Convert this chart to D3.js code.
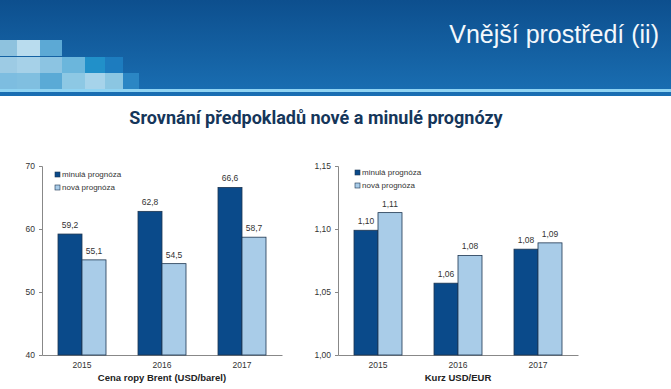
<!DOCTYPE html>
<html>
<head>
<meta charset="utf-8">
<script src="https://cdn.jsdelivr.net/npm/d3@7"></script>
<style>
  body { margin: 0; background: #fff; }
  svg { display: block; }
</style>
</head>
<body>
<div id="chart"></div>
<script>
// data
var years        = [ '2015', '2016', '2017' ];
var seriesNames  = [ 'minulá prognóza', 'nová prognóza' ];
var brentOld     = [ 59.2, 62.8, 66.6 ];
var brentNew     = [ 55.1, 54.5, 58.7 ];
var brentTicks   = [ 40, 50, 60, 70 ];
var usdOld       = [ 1.099, 1.057, 1.084 ];
var usdNew       = [ 1.113, 1.079, 1.089 ];
var usdTicks     = [ 1.00, 1.05, 1.10, 1.15 ];

var chart_width  = 671;
var chart_height = 389;
var colors       = [ '#0a4a8a', '#a9cce8' ];

var cz = d3.formatLocale({ decimal: ',', thousands: ' ', grouping: [3], currency: ['', ''] });

var svg = d3.select('#chart')
    .append('svg')
    .attr('width', chart_width)
    .attr('height', chart_height);

// Header
var defs = svg.append('defs');
var grad = defs.append('linearGradient')
    .attr('id', 'hdr')
    .attr('x1', 0).attr('y1', 0).attr('x2', 0).attr('y2', 1);
grad.append('stop').attr('offset', '0%').attr('stop-color', '#0d4f8e');
grad.append('stop').attr('offset', '100%').attr('stop-color', '#1a6fb3');

svg.append('rect')
    .attr('x', 0).attr('y', 0)
    .attr('width', chart_width).attr('height', 96)
    .attr('fill', 'url(#hdr)');

// decorative squares
var squares = [
    [0, 40, 17, '#8ec2de'], [17, 40, 23, '#b9dcee'], [40, 40, 22, '#5ca9d5'],
    [0, 57, 17, '#9dcbe4'], [17, 57, 23, '#a6d1e8'], [40, 57, 22, '#8cc4e2'],
    [62, 57, 23, '#6bb6dc'], [85, 57, 20, '#2190c9'], [105, 57, 18, '#1d7cbf'],
    [0, 73, 17, '#7dbde0'], [17, 73, 23, '#80bfe0'], [40, 73, 22, '#5aaad6'],
    [62, 73, 23, '#8dc8e4'], [85, 73, 20, '#a6d3ea'], [105, 73, 18, '#8bc6e2'],
    [123, 73, 16, '#2b86c4']
];
svg.append('g').selectAll('rect')
    .data(squares)
    .enter()
    .append('rect')
    .attr('x', function(d) { return d[0]; })
    .attr('y', function(d) { return d[1]; })
    .attr('width', function(d) { return d[2]; })
    .attr('height', 16)
    .attr('fill', function(d) { return d[3]; });

svg.append('rect')
    .attr('x', 0).attr('y', 89)
    .attr('width', chart_width).attr('height', 3)
    .attr('fill', '#8fd3f2');

svg.append('text')
    .attr('x', 659).attr('y', 43)
    .attr('text-anchor', 'end')
    .attr('font-family', '"Liberation Sans", sans-serif')
    .attr('font-size', 25)
    .attr('fill', '#f4f8fc')
    .text('Vnější prostředí (ii)');

svg.append('text')
    .attr('x', 316).attr('y', 124)
    .attr('text-anchor', 'middle')
    .attr('font-family', 'Roboto, "Liberation Sans", sans-serif')
    .attr('font-weight', 'bold')
    .attr('font-size', 18)
    .attr('fill', '#15365a')
    .text('Srovnání předpokladů nové a minulé prognózy');

function drawChart(opts) {
    var g = svg.append('g');

    var x_scale = d3.scaleBand()
        .domain(years)
        .range([ opts.left, opts.left + 240 ]);

    var x_inner = d3.scaleBand()
        .domain([0, 1])
        .range([ 16, 64 ]);

    var y_scale = d3.scaleLinear()
        .domain(opts.domain)
        .range([ 355, 166 ]);

    // y axis
    var y_axis = d3.axisLeft(y_scale)
        .tickValues(opts.ticks)
        .tickSize(3)
        .tickPadding(4)
        .tickFormat(opts.tickFormat);

    var ya = g.append('g')
        .attr('transform', 'translate(' + opts.left + ',0)')
        .call(y_axis);
    ya.select('.domain').attr('stroke', '#888');
    ya.selectAll('.tick line').attr('stroke', '#888');
    ya.selectAll('text')
        .attr('font-family', '"Liberation Sans", Arial, sans-serif')
        .attr('font-size', 8.5)
        .attr('fill', '#333');

    // x axis
    var x_axis = d3.axisBottom(x_scale)
        .tickSize(0)
        .tickPadding(7);

    var xa = g.append('g')
        .attr('transform', 'translate(0,355)')
        .call(x_axis);
    xa.select('.domain').attr('stroke', '#888');
    xa.selectAll('text')
        .attr('font-family', '"Liberation Sans", Arial, sans-serif')
        .attr('font-size', 8.5)
        .attr('fill', '#333');

    // bars
    var rows = [];
    years.forEach(function(yr, i) {
        rows.push({ year: yr, s: 0, v: opts.old[i] });
        rows.push({ year: yr, s: 1, v: opts.nw[i] });
    });

    g.append('g').selectAll('rect')
        .data(rows)
        .enter()
        .append('rect')
        .attr('x', function(d) { return x_scale(d.year) + x_inner(d.s); })
        .attr('y', function(d) { return y_scale(d.v); })
        .attr('width', x_inner.bandwidth())
        .attr('height', function(d) { return 355 - y_scale(d.v); })
        .attr('fill', function(d) { return colors[d.s]; })
        .attr('stroke', '#1d3550')
        .attr('stroke-width', 0.8);

    g.append('g').selectAll('text')
        .data(rows)
        .enter()
        .append('text')
        .attr('x', function(d) { return x_scale(d.year) + x_inner(d.s) + x_inner.bandwidth() / 2; })
        .attr('y', function(d) { return y_scale(d.v) - 6; })
        .attr('text-anchor', 'middle')
        .attr('font-family', '"Liberation Sans", Arial, sans-serif')
        .attr('font-size', 8.5)
        .attr('fill', '#333')
        .text(function(d) { return opts.valueFormat(d.v); });

    // legend
    var lg = g.append('g')
        .attr('transform', 'translate(' + (opts.left + opts.legendDx) + ',' + opts.legendY + ')');
    seriesNames.forEach(function(name, i) {
        lg.append('rect')
            .attr('x', 0).attr('y', i * 13 - 5)
            .attr('width', 5).attr('height', 5)
            .attr('fill', colors[i])
            .attr('stroke', '#1d3550')
            .attr('stroke-width', 0.6);
        lg.append('text')
            .attr('x', 7).attr('y', i * 13)
            .attr('font-family', '"Liberation Sans", Arial, sans-serif')
            .attr('font-size', 8)
            .attr('fill', '#333')
            .text(name);
    });

    // axis title
    g.append('text')
        .attr('x', opts.left + 120)
        .attr('y', 381)
        .attr('text-anchor', 'middle')
        .attr('font-family', '"Liberation Sans", Arial, sans-serif')
        .attr('font-weight', 'bold')
        .attr('font-size', 9.5)
        .attr('fill', '#222')
        .text(opts.title);
}

drawChart({
    left: 42,
    domain: [40, 70],
    ticks: brentTicks,
    tickFormat: cz.format('d'),
    valueFormat: cz.format('.1f'),
    old: brentOld,
    nw: brentNew,
    legendDx: 13,
    legendY: 177,
    title: 'Cena ropy Brent (USD/barel)'
});

drawChart({
    left: 338,
    domain: [1.00, 1.15],
    ticks: usdTicks,
    tickFormat: cz.format('.2f'),
    valueFormat: cz.format('.2f'),
    old: usdOld,
    nw: usdNew,
    legendDx: 17,
    legendY: 175,
    title: 'Kurz USD/EUR'
});
</script>
</body>
</html>
